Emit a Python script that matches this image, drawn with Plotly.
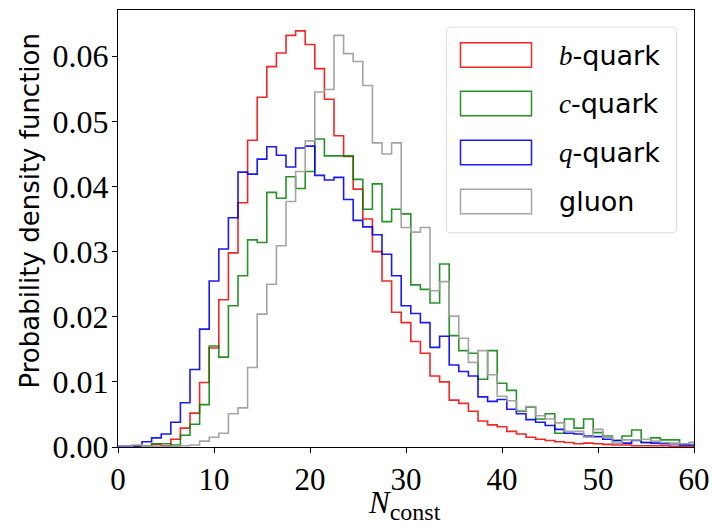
import plotly.graph_objects as go

# bin centers (integer N_const), unit-width bins
n_const = list(range(0, 61))

b_quark = [0.0000, 0.0000, 0.0001, 0.0001, 0.0004, 0.0002, 0.0012, 0.0029, 0.0052, 0.0099,
           0.0152, 0.0226, 0.0298, 0.0375, 0.0471, 0.0537, 0.0584, 0.0605, 0.0632, 0.0639,
           0.0618, 0.0581, 0.0534, 0.0478, 0.0446, 0.0396, 0.0350, 0.0300, 0.0255, 0.0207,
           0.0191, 0.0162, 0.0144, 0.0109, 0.0100, 0.0072, 0.0067, 0.0055, 0.0040, 0.0034,
           0.0031, 0.0024, 0.0020, 0.0015, 0.0012, 0.0010, 0.0008, 0.0007, 0.0005, 0.0006,
           0.0005, 0.0004, 0.0003, 0.0003, 0.0002, 0.0002, 0.0002, 0.0002, 0.0001, 0.0001,
           0.0001]

c_quark = [0.0000, 0.0000, 0.0000, 0.0001, 0.0005, 0.0005, 0.0003, 0.0018, 0.0035, 0.0065,
           0.0155, 0.0138, 0.0217, 0.0263, 0.0318, 0.0314, 0.0391, 0.0382, 0.0415, 0.0397,
           0.0423, 0.0473, 0.0447, 0.0447, 0.0447, 0.0411, 0.0365, 0.0404, 0.0346, 0.0365,
           0.0358, 0.0249, 0.0242, 0.0221, 0.0281, 0.0171, 0.0148, 0.0144, 0.0104, 0.0148,
           0.0098, 0.0087, 0.0055, 0.0061, 0.0043, 0.0051, 0.0021, 0.0043, 0.0029, 0.0043,
           0.0022, 0.0017, 0.0010, 0.0017, 0.0026, 0.0007, 0.0014, 0.0011, 0.0011, 0.0004,
           0.0007]

q_quark = [0.0001, 0.0001, 0.0002, 0.0008, 0.0014, 0.0020, 0.0038, 0.0068, 0.0119, 0.0181,
           0.0255, 0.0304, 0.0352, 0.0422, 0.0419, 0.0442, 0.0461, 0.0448, 0.0430, 0.0459,
           0.0462, 0.0417, 0.0410, 0.0414, 0.0380, 0.0348, 0.0338, 0.0326, 0.0296, 0.0263,
           0.0217, 0.0205, 0.0191, 0.0153, 0.0170, 0.0126, 0.0116, 0.0109, 0.0077, 0.0070,
           0.0073, 0.0058, 0.0051, 0.0042, 0.0038, 0.0033, 0.0027, 0.0021, 0.0020, 0.0017,
           0.0016, 0.0012, 0.0010, 0.0006, 0.0010, 0.0007, 0.0006, 0.0005, 0.0005, 0.0003,
           0.0003]

gluon = [0.0000, 0.0000, 0.0003, 0.0001, 0.0001, 0.0001, 0.0001, 0.0002, 0.0003, 0.0009,
         0.0015, 0.0021, 0.0051, 0.0060, 0.0122, 0.0204, 0.0250, 0.0309, 0.0377, 0.0423,
         0.0470, 0.0545, 0.0549, 0.0632, 0.0604, 0.0592, 0.0555, 0.0467, 0.0450, 0.0467,
         0.0337, 0.0330, 0.0337, 0.0240, 0.0254, 0.0201, 0.0167, 0.0130, 0.0148, 0.0111,
         0.0078, 0.0071, 0.0056, 0.0062, 0.0048, 0.0043, 0.0037, 0.0024, 0.0024, 0.0015,
         0.0027, 0.0015, 0.0006, 0.0011, 0.0011, 0.0012, 0.0009, 0.0007, 0.0006, 0.0005,
         0.0007]

series_names = ["b", "c", "q", "gluon"]
series_values = [b_quark, c_quark, q_quark, gluon]
series_colors = ["rgba(238,0,0,0.85)", "rgba(0,128,0,0.85)", "rgba(0,0,238,0.9)", "rgba(160,160,160,0.95)"]

x_ticks = [0, 10, 20, 30, 40, 50, 60]
y_ticks = [0.00, 0.01, 0.02, 0.03, 0.04, 0.05, 0.06]

SERIF = "Liberation Serif"
SANS = "DejaVu Sans"

fig = go.Figure()
for name, vals, col in zip(series_names, series_values, series_colors):
    xs = [c - 0.5 for c in n_const] + [n_const[-1] + 0.5]
    ys = list(vals) + [vals[-1]]
    fig.add_trace(go.Scatter(x=xs, y=ys, mode="lines", line=dict(color=col, width=1.6, shape="hv"),
                             showlegend=False, hoverinfo="skip", name=name))

# manual legend (matplotlib-style outlined patches)
def lbl(n):
    if n == "gluon":
        return "gluon"
    return "<span style=\"font-family:'%s'\"><i>%s</i></span>-quark" % (SERIF, n)

bx0, bx1, by0, by1 = 0.570, 0.9696, 0.490, 0.961
rx, ry = 0.008, 0.011
path = (f"M {bx0+rx},{by1} L {bx1-rx},{by1} Q {bx1},{by1} {bx1},{by1-ry} "
        f"L {bx1},{by0+ry} Q {bx1},{by0} {bx1-rx},{by0} L {bx0+rx},{by0} "
        f"Q {bx0},{by0} {bx0},{by0+ry} L {bx0},{by1-ry} Q {bx0},{by1} {bx0+rx},{by1} Z")
fig.add_shape(type="path", path=path, xref="paper", yref="paper",
              line=dict(color="rgb(220,220,220)", width=1), fillcolor="rgba(255,255,255,0.8)", layer="above")
row_top = [0.925, 0.814, 0.702, 0.590]
for i, (name, col) in enumerate(zip(series_names, series_colors)):
    y1 = row_top[i]
    y0 = y1 - 0.056
    fig.add_shape(type="rect", xref="paper", yref="paper", x0=0.5946, x1=0.7179, y0=y0, y1=y1,
                  line=dict(color=col, width=1.5), fillcolor="rgba(0,0,0,0)", layer="above")
    fig.add_annotation(xref="paper", yref="paper", x=0.7630, y=(y0 + y1) / 2, xanchor="left",
                       yanchor="middle", text=lbl(name), showarrow=False,
                       font=dict(family=SANS, size=27, color="black"))

# axis titles
fig.add_annotation(xref="paper", yref="paper", x=0.497, y=-0.132, xanchor="center", yanchor="middle",
                   text="<i>N</i><sub><span style=\"font-size:24px\">const</span></sub>", showarrow=False,
                   font=dict(family=SERIF, size=31, color="black"))
fig.add_annotation(xref="paper", yref="paper", x=-0.1536, y=0.540, xanchor="center", yanchor="middle",
                   text="Probability density function", textangle=-90, showarrow=False,
                   font=dict(family=SANS, size=26, color="black"))

fig.update_xaxes(range=[0, 60], tickvals=x_ticks, ticktext=[str(t) for t in x_ticks],
                 showline=True, linecolor="black", linewidth=1.2, mirror=True, automargin=False,
                 ticks="outside", ticklen=5, tickcolor="black", showgrid=False, zeroline=False,
                 tickfont=dict(family=SERIF, size=31, color="black"))
fig.update_yaxes(range=[0, 0.0671], tickvals=y_ticks, ticktext=["%.2f" % t for t in y_ticks],
                 showline=True, linecolor="black", linewidth=1.2, mirror=True, automargin=False,
                 ticks="outside", ticklen=5, tickcolor="black", showgrid=False, zeroline=False,
                 tickfont=dict(family=SERIF, size=32, color="black"), ticklabelstandoff=-3)

fig.update_layout(width=712, height=525, margin=dict(l=118, r=18, t=10, b=78, autoexpand=False),
                  plot_bgcolor="white", paper_bgcolor="white")

fig.write_html("out.html", config={"displayModeBar": False},
               post_script="document.body.style.margin='0';document.body.style.overflow='hidden';")
